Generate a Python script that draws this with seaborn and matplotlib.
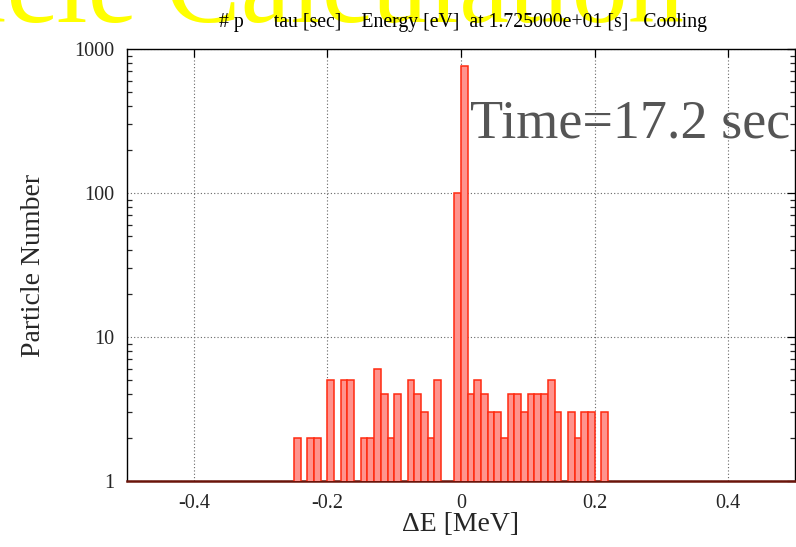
import numpy as np
import pandas as pd
import matplotlib
matplotlib.use("Agg")
import matplotlib.pyplot as plt
import seaborn as sns
from matplotlib.ticker import LogLocator, NullFormatter, FixedLocator

# Energy deviation bin centres [MeV] and particle counts per bin
delta_e = [-0.245, -0.225, -0.215, -0.195, -0.175, -0.165, -0.145, -0.135,
           -0.125, -0.115, -0.105, -0.095, -0.075, -0.065, -0.055, -0.045,
           -0.035, -0.005, 0.005, 0.015, 0.025, 0.035, 0.045, 0.055,
           0.065, 0.075, 0.085, 0.095, 0.105, 0.115, 0.125, 0.135,
           0.145, 0.165, 0.175, 0.185, 0.195, 0.215]
counts = [2, 2, 2, 5, 5, 5, 2, 2,
          6, 4, 2, 4, 5, 4, 3, 2,
          5, 100, 760, 4, 5, 4, 3, 3,
          2, 4, 4, 3, 4, 4, 4, 5,
          3, 3, 2, 3, 3, 3]

x_ticks = [-0.4, -0.2, 0.0, 0.2, 0.4]
x_tick_labels = ["-0.4", "-0.2", "0", "0.2", "0.4"]
y_ticks = [1, 10, 100, 1000]
y_tick_labels = ["1", "10", "100", "1000"]

df = pd.DataFrame({"dE": delta_e, "n": counts})

sns.set_style("white")
plt.rcParams["font.family"] = ["Liberation Serif", "DejaVu Serif"]

W, H = 796, 547
fig = plt.figure(figsize=(W / 100, H / 100), dpi=100)
ax = fig.add_axes([127 / W, 1 - 481 / H, (795 - 127) / W, (481 - 49) / H])

sns.histplot(data=df, x="dE", weights="n", binwidth=0.01,
             binrange=(-0.5, 0.5), ax=ax,
             color="#ff938d", alpha=1.0, edgecolor="#ff2a10", linewidth=1.1,
             zorder=3)

ax.set_yscale("log")
ax.set_xlim(-0.5, 0.5)
ax.set_ylim(1, 1000)

ax.xaxis.set_major_locator(FixedLocator(x_ticks))
ax.set_xticklabels(x_tick_labels)
ax.yaxis.set_major_locator(FixedLocator(y_ticks))
ax.set_yticklabels(y_tick_labels)
ax.yaxis.set_minor_locator(LogLocator(base=10, subs=np.arange(2, 10)))
ax.yaxis.set_minor_formatter(NullFormatter())

ax.tick_params(axis="both", which="major", direction="in", length=6,
               width=0.9, color="black", labelsize=14.5, top=True, right=True)
ax.tick_params(axis="x", which="major", pad=9)
ax.tick_params(axis="y", which="major", pad=9)
ax.tick_params(axis="y", which="minor", direction="in", length=3.5,
               width=0.9, left=True, right=True)

ax.grid(True, which="major", color="#666666", linestyle=(0, (1, 2)),
        linewidth=0.8, zorder=1)
ax.set_axisbelow(True)

for side in ["left", "top", "right"]:
    ax.spines[side].set_color("black")
    ax.spines[side].set_linewidth(1.0)
ax.spines["bottom"].set_color("#6a140a")
ax.spines["bottom"].set_linewidth(1.8)

ax.set_xlabel("ΔE [MeV]", fontsize=20)
ax.set_ylabel("Particle Number", fontsize=20)
ax.xaxis.set_label_coords(0.5, -0.072)
ax.yaxis.set_label_coords(-0.122, 0.5)

# Banner, header line and time stamp
fig.text(684 / W, 1 - 22 / H, "Particle Calculation", ha="right",
         va="baseline", fontsize=81, color="#ffff00", zorder=0)
header = ("# p" + " " * 6 + "tau [sec]" + " " * 4 + "Energy [eV]" + " " * 2
          + "at 1.725000e+01 [s]" + " " * 3 + "Cooling")
fig.text(463 / W, 1 - 27 / H, header, ha="center", va="baseline",
         fontsize=14.2, color="black", zorder=5)
fig.text(470 / W, 1 - 138 / H, "Time=17.2 sec", ha="left", va="baseline",
         fontsize=39, color="#555555", zorder=5)

fig.savefig("out.png", dpi=100)
